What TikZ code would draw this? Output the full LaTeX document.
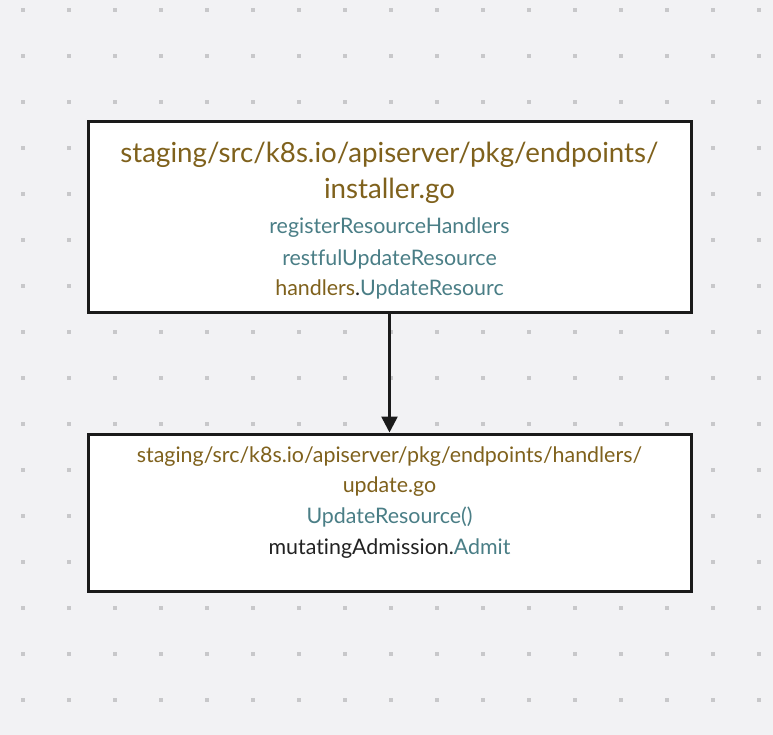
\documentclass[tikz,border=0pt]{standalone}
\usepackage{fontspec}
\setmainfont{Lato}[Ligatures=NoCommon]
\usetikzlibrary{arrows.meta}
\definecolor{bgc}{HTML}{F2F2F4}
\definecolor{dotc}{HTML}{C8C8CA}
\definecolor{gold}{HTML}{7F611C}
\definecolor{teal}{HTML}{4A7E86}
\definecolor{ink}{HTML}{222222}
\definecolor{edge}{HTML}{1A1A1A}
\tikzset{
  box/.style={draw=edge, line width=3pt, fill=white, minimum width=603pt, inner sep=0pt},
  txt/.style={inner sep=0pt, anchor=center},
  big/.style={font=\fontsize{27.7}{32}\selectfont},
  mid/.style={font=\fontsize{21.4}{25}\selectfont},
  link/.style={draw=edge, line width=2.6pt, -{Triangle[length=16pt,width=16pt]}}
}
\begin{document}
\begin{tikzpicture}[x=1pt,y=-1pt]
\fill[bgc] (0,0) rectangle (773,735);
\useasboundingbox (0,0) rectangle (773,735);
\foreach \i in {0,...,16}{
  \foreach \j in {0,...,15}{
    \fill[dotc] ({22.7+46*\i-2},{10+46*\j-2}) rectangle ++(4,4);
  }
}
\node[box, minimum height=190pt] (top) at (389.5,217) {};
\node[box, minimum height=157pt] (bot) at (389.5,512.5) {};
\draw[link] (top.south) -- (bot.north);
% top box text
\node[txt, big, text=gold] (t1) at (389.5,155) {staging/src/k8s.io/apiserver/pkg/endpoints/};
\node[txt, big, text=gold] (t2) at (389.5,191) {installer.go};
\node[txt, mid, text=teal] (t3) at (389.5,228) {registerResourceHandlers};
\node[txt, mid, text=teal] (t4) at (389.5,259) {restfulUpdateResource};
\node[txt, mid] (t5) at (389.5,289) {\textcolor{gold}{handlers}\textcolor{ink}{.}\textcolor{teal}{UpdateResourc}};
% bottom box text
\node[txt, mid, text=gold] (b1) at (389.5,456.5) {staging/src/k8s.io/apiserver/pkg/endpoints/handlers/};
\node[txt, mid, text=gold] (b2) at (389.5,486.5) {update.go};
\node[txt, mid, text=teal] (b3) at (389.5,517.5) {UpdateResource()};
\node[txt, mid] (b4) at (389.5,548.5) {\textcolor{ink}{mutatingAdmission.}\textcolor{teal}{Admit}};
\end{tikzpicture}
\end{document}
